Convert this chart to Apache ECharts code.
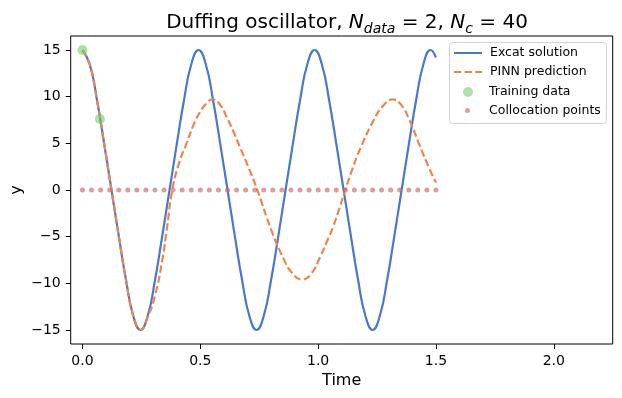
<!DOCTYPE html>
<html>
<head>
<meta charset="utf-8">
<script src="https://cdn.jsdelivr.net/npm/echarts@6/dist/echarts.min.js"></script>
<style>
  html, body { margin: 0; padding: 0; background: #fff; }
  #main { width: 622px; height: 398px; }
</style>
</head>
<body>
<div id="main"></div>
<script>
// exact solution
var exactT = [0, 0.0308, 0.0616, 0.0923, 0.1231, 0.1539, 0.1847, 0.2155, 0.2462, 0.2770,
  0.3078, 0.3386, 0.3694, 0.4001, 0.4309, 0.4617, 0.4925, 0.5233, 0.5540, 0.5848,
  0.6156, 0.6464, 0.6772, 0.7079, 0.7387, 0.7695, 0.8003, 0.8311, 0.8618, 0.8926,
  0.9234, 0.9542, 0.9850, 1.0157, 1.0465, 1.0773, 1.1081, 1.1389, 1.1696, 1.2004,
  1.2312, 1.2620, 1.2928, 1.3235, 1.3543, 1.3851, 1.4159, 1.4467, 1.4774, 1.5];
var exactY = [15, 13.47, 9.65, 4.91, 0, -4.91, -9.65, -13.47, -15, -13.47,
  -9.65, -4.91, 0, 4.91, 9.65, 13.47, 15, 13.47, 9.65, 4.91,
  0, -4.91, -9.65, -13.47, -15, -13.47, -9.65, -4.91, 0, 4.91,
  9.65, 13.47, 15, 13.47, 9.65, 4.91, 0, -4.91, -9.65, -13.47,
  -15, -13.47, -9.65, -4.91, 0, 4.91, 9.65, 13.47, 15, 14.2];

// PINN prediction
var pinnT = [0, 0.0308, 0.0616, 0.0923, 0.1231, 0.1539, 0.1847, 0.2155, 0.2462, 0.277,
  0.308, 0.338, 0.360, 0.381, 0.410, 0.442, 0.470, 0.500, 0.527, 0.552,
  0.585, 0.612, 0.640, 0.668, 0.705, 0.742, 0.803, 0.852, 0.890, 0.933,
  0.970, 1.008, 1.036, 1.064, 1.090, 1.115, 1.146, 1.178, 1.234, 1.275,
  1.316, 1.350, 1.383, 1.432, 1.470, 1.5];
var pinnY = [15, 13.47, 9.65, 4.91, 0, -4.91, -9.65, -13.47, -15, -13.6,
  -11.3, -7.6, -3.8, 0, 2.9, 5.0, 6.9, 8.4, 9.3, 9.71,
  9.1, 7.8, 6.3, 4.6, 2.4, 0, -4.4, -7.3, -8.9, -9.6,
  -9.0, -7.2, -5.6, -3.9, -2.0, 0, 2.3, 4.4, 7.4, 9.0,
  9.7, 9.2, 7.75, 4.7, 2.4, 0.8];

// training data
var trainT = [0, 0.074];
var trainY = [15, 7.6];

// collocation points
var colloT = [0, 0.0385, 0.0769, 0.1154, 0.1538, 0.1923, 0.2308, 0.2692, 0.3077, 0.3462,
  0.3846, 0.4231, 0.4615, 0.5, 0.5385, 0.5769, 0.6154, 0.6538, 0.6923, 0.7308,
  0.7692, 0.8077, 0.8462, 0.8846, 0.9231, 0.9615, 1.0, 1.0385, 1.0769, 1.1154,
  1.1538, 1.1923, 1.2308, 1.2692, 1.3077, 1.3462, 1.3846, 1.4231, 1.4615, 1.5];
var colloY = [0, 0, 0, 0, 0, 0, 0, 0, 0, 0, 0, 0, 0, 0, 0, 0, 0, 0, 0, 0,
  0, 0, 0, 0, 0, 0, 0, 0, 0, 0, 0, 0, 0, 0, 0, 0, 0, 0, 0, 0];

var xTicks = [0, 0.5, 1, 1.5, 2];
var yTicks = [-15, -10, -5, 0, 5, 10, 15];

function pairs(xs, ys) {
  return xs.map(function (x, i) { return [x, ys[i]]; });
}

var font = 'DejaVu Sans';
var chart = echarts.init(document.getElementById('main'), null, { renderer: 'canvas' });

// one legend per row so the rows sit where matplotlib puts them
function legendRow(name, left, top, w, h, padLeft, hideSymbol) {
  var item = { name: name };
  if (hideSymbol) item.itemStyle = { opacity: 0 };
  return {
    data: [item], orient: 'vertical', left: left, top: top, padding: 0, z: 10,
    itemWidth: w, itemHeight: h, selectedMode: false,
    textStyle: { fontFamily: font, fontSize: 12.5, color: '#000', lineHeight: 14, padding: [0, 0, 0, padLeft] }
  };
}

var option = {
  animation: false,
  title: {
    text: 'Duffing oscillator, {n|N}{s|data}{r| = 2, }{n|N}{s|c}{r| = 40}',
    left: 342, top: 5, textAlign: 'center',
    textStyle: {
      fontFamily: font, fontSize: 20, fontWeight: 'normal', color: '#000', lineHeight: 26,
      rich: {
        n: { fontFamily: font, fontSize: 20, fontStyle: 'italic', color: '#000', lineHeight: 26 },
        s: { fontFamily: font, fontSize: 14, fontStyle: 'italic', color: '#000', lineHeight: 14, verticalAlign: 'bottom' },
        r: { fontFamily: font, fontSize: 20, color: '#000', lineHeight: 26 }
      }
    }
  },
  legend: [
    legendRow('Excat solution', 453, 46, 28, 10, 3, true),
    legendRow('PINN prediction', 453, 65, 28, 10, 3, true),
    legendRow('Training data', 463, 85, 10, 10, 11, false),
    legendRow('Collocation points', 465, 103.5, 5, 5, 14, false)
  ],
  graphic: [{
    type: 'rect', left: 449, top: 42, z: -10, silent: true,
    shape: { width: 157, height: 81, r: 3 },
    style: { fill: 'rgba(255,255,255,0.8)', stroke: '#d3d3d3', lineWidth: 1 }
  }],
  grid: {
    left: 70.7, top: 36, width: 542, height: 308,
    outerBoundsMode: 'none', containLabel: false,
    show: true, borderColor: '#000', borderWidth: 1, backgroundColor: 'transparent'
  },
  xAxis: {
    type: 'value', min: -0.05, max: 2.25,
    name: 'Time', nameLocation: 'middle', nameGap: 28,
    nameTextStyle: { fontFamily: font, fontSize: 16, color: '#000' },
    axisLine: { show: false, onZero: false },
    axisTick: { show: true, length: 5, lineStyle: { color: '#000' }, customValues: xTicks },
    axisLabel: {
      fontFamily: font, fontSize: 14, color: '#000', margin: 10, customValues: xTicks,
      formatter: function (v) { return v.toFixed(1); }
    },
    splitLine: { show: false }
  },
  yAxis: {
    type: 'value', min: -16.5, max: 16.5,
    name: 'y', nameLocation: 'middle', nameGap: 46, nameMoveOverlap: false,
    nameTextStyle: { fontFamily: font, fontSize: 16, color: '#000' },
    axisLine: { show: false, onZero: false },
    axisTick: { show: true, length: 5, lineStyle: { color: '#000' }, customValues: yTicks },
    axisLabel: {
      fontFamily: font, fontSize: 14, color: '#000', margin: 10, customValues: yTicks,
      formatter: function (v) { return String(v).replace('-', '\u2212'); }
    },
    splitLine: { show: false }
  },
  series: [
    {
      name: 'Excat solution', type: 'line', data: pairs(exactT, exactY),
      smooth: true, symbol: 'none', z: 2,
      itemStyle: { color: '#4878d0' },
      lineStyle: { color: '#4878d0', width: 2.2 }
    },
    {
      name: 'PINN prediction', type: 'line', data: pairs(pinnT, pinnY),
      smooth: true, symbol: 'none', z: 3,
      itemStyle: { color: '#ee854a' },
      lineStyle: { color: '#ee854a', width: 2.2, type: [7.4, 3.2] }
    },
    {
      name: 'Training data', type: 'scatter', data: pairs(trainT, trainY),
      symbolSize: 10, z: 4,
      itemStyle: { color: 'rgba(106,204,100,0.7)' }
    },
    {
      name: 'Collocation points', type: 'scatter', data: pairs(colloT, colloY),
      symbolSize: 5, z: 5,
      itemStyle: { color: 'rgba(214,95,95,0.8)' }
    }
  ]
};
chart.setOption(option);
</script>
</body>
</html>
